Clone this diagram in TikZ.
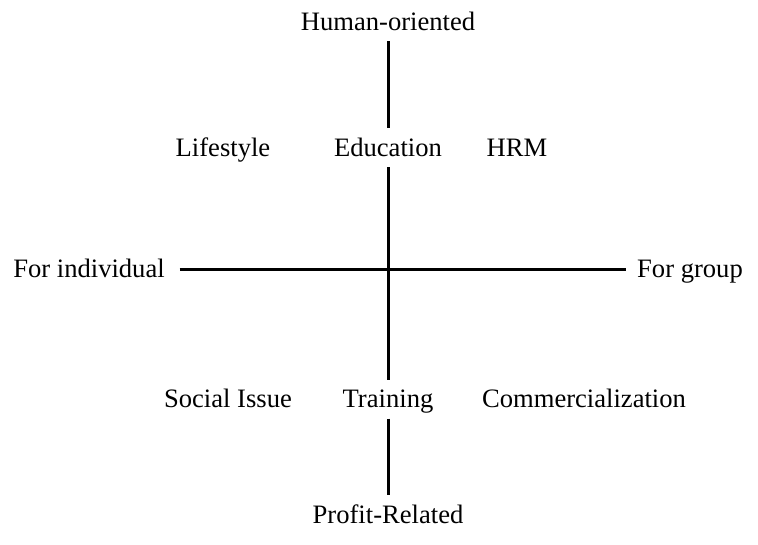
\documentclass[tikz,border=0pt]{standalone}
\usepackage{fontspec}
\setmainfont{Liberation Serif}
\begin{document}
\begin{tikzpicture}[x=1pt,y=-1pt,
  lbl/.style={inner sep=0pt,text height=17pt,text depth=0pt,outer sep=11pt,font=\fontsize{26.6}{30}\selectfont},
  axis/.style={line width=3pt}]
\useasboundingbox (0,0) rectangle (758,544);
\node[lbl] (ho) at (388,21.5) {Human-oriented};
\node[lbl] (ed) at (388,147.5) {Education};
\node[lbl] (ls) at (223,147.5) {Lifestyle};
\node[lbl] (hr) at (517,147.5) {HRM};
\node[lbl] (fi) at (89,269) {For individual};
\node[lbl] (fg) at (690,269) {For group};
\node[lbl] (si) at (228,399) {Social Issue};
\node[lbl] (tr) at (388,399) {Training};
\node[lbl] (cm) at (584,399) {Commercialization};
\node[lbl] (pr) at (388,514.5) {Profit-Related};
\draw[axis] (ho) -- (ed);
\draw[axis] (ed) -- (tr);
\draw[axis] (tr) -- (pr);
\draw[axis,shorten <=4pt] (fi) -- (fg);
\end{tikzpicture}
\end{document}
